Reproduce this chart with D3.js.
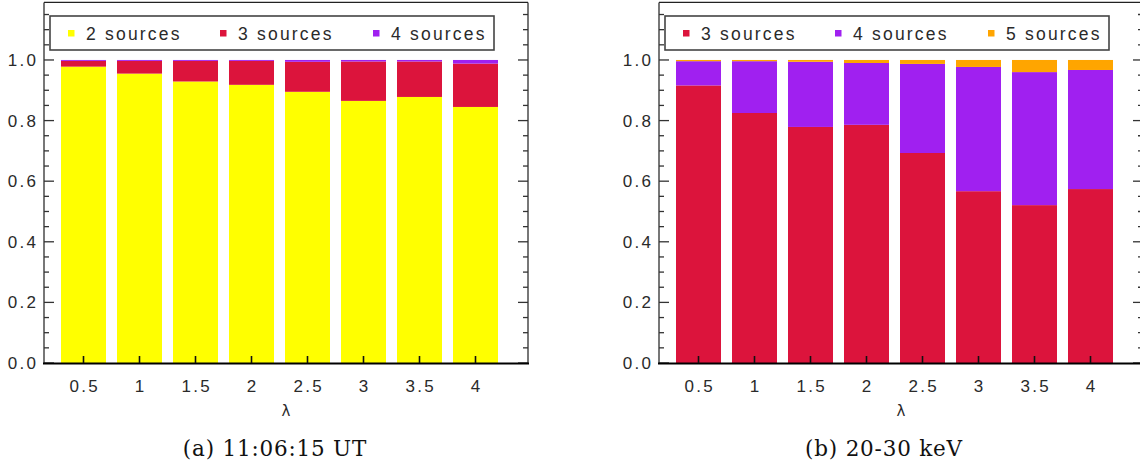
<!DOCTYPE html>
<html>
<head>
<meta charset="utf-8">
<script src="https://cdn.jsdelivr.net/npm/d3@7/dist/d3.min.js"></script>
<style>
  html, body { margin: 0; padding: 0; background: #fff; }
  svg { display: block; }
  .tick-label { font-family: "Liberation Sans", Arial, sans-serif; font-size: 17px; letter-spacing: 2.3px; fill: #2a2a2a; }
  .legend-label { font-family: "Liberation Sans", Arial, sans-serif; font-size: 17.5px; letter-spacing: 2.2px; fill: #2a2a2a; }
  .axis-title { font-family: "DejaVu Sans", sans-serif; font-size: 15px; fill: #2a2a2a; }
  .caption { font-family: "DejaVu Serif", serif; font-size: 21.5px; letter-spacing: 0.8px; fill: #111; }
</style>
</head>
<body>
<svg id="chart" width="1140" height="465"></svg>
<script>
// λ values along the horizontal axis
const lambdas = [0.5, 1, 1.5, 2, 2.5, 3, 3.5, 4];
const lambdaLabels = ["0.5", "1", "1.5", "2", "2.5", "3", "3.5", "4"];
const yTicks = [0, 0.2, 0.4, 0.6, 0.8, 1.0];

// Panel (a): fraction of runs finding 2, 3, 4 sources
const a2sources = [0.978, 0.955, 0.929, 0.918, 0.895, 0.865, 0.878, 0.845];
const a3sources = [0.019, 0.042, 0.068, 0.079, 0.099, 0.130, 0.117, 0.143];
const a4sources = [0.003, 0.003, 0.003, 0.003, 0.006, 0.005, 0.005, 0.012];

// Panel (b): fraction of runs finding 3, 4, 5 sources
const b3sources = [0.916, 0.825, 0.779, 0.786, 0.693, 0.567, 0.521, 0.574];
const b4sources = [0.080, 0.171, 0.215, 0.204, 0.294, 0.410, 0.439, 0.393];
const b5sources = [0.004, 0.004, 0.006, 0.010, 0.013, 0.023, 0.040, 0.033];

const panelA = {
  left: 44, caption: "(a) 11:06:15 UT", captionX: 275,
  series: [
    { name: "2 sources", color: "#ffff00", values: a2sources },
    { name: "3 sources", color: "#dc143c", values: a3sources },
    { name: "4 sources", color: "#a020f0", values: a4sources }
  ]
};
const panelB = {
  left: 659, caption: "(b) 20-30 keV", captionX: 884,
  series: [
    { name: "3 sources", color: "#dc143c", values: b3sources },
    { name: "4 sources", color: "#a020f0", values: b4sources },
    { name: "5 sources", color: "#ffa500", values: b5sources }
  ]
};

const svg = d3.select("#chart");
const plotW = 484, plotTop = 2.4, plotBottom = 363;
const barW = 45;

function drawPanel(p) {
  const g = svg.append("g").attr("transform", `translate(${p.left},0)`);
  const x = d3.scaleLinear().domain([0.5, 4]).range([39.5, 431.5]);
  const y = d3.scaleLinear().domain([0, 1.19]).range([plotBottom, plotTop]);

  // stacked bars
  const rows = lambdas.map((l, i) => {
    const r = { lambda: l };
    p.series.forEach(s => { r[s.name] = s.values[i]; });
    return r;
  });
  const stack = d3.stack().keys(p.series.map(s => s.name))(rows);
  stack.forEach((layer, k) => {
    g.append("g").attr("fill", p.series[k].color)
      .selectAll("rect").data(layer).join("rect")
      .attr("x", d => x(d.data.lambda) - barW / 2)
      .attr("width", barW)
      .attr("y", d => y(d[1]))
      .attr("height", d => y(d[0]) - y(d[1]));
  });

  // frame
  g.append("line").attr("x1", 0).attr("x2", 0).attr("y1", plotTop).attr("y2", plotBottom)
    .attr("stroke", "#555").attr("stroke-width", 1.6);
  g.append("line").attr("x1", plotW).attr("x2", plotW).attr("y1", plotTop).attr("y2", plotBottom)
    .attr("stroke", "#555").attr("stroke-width", 1.6);
  g.append("line").attr("x1", 0).attr("x2", plotW).attr("y1", plotTop).attr("y2", plotTop)
    .attr("stroke", "#222").attr("stroke-width", 1.4);

  // y ticks (major + minor) on both sides, pointing inward
  const minor = d3.range(0, 1.151, 0.05);
  minor.forEach(v => {
    const isMajor = Math.abs(v * 5 - Math.round(v * 5)) < 1e-6;
    const len = isMajor ? 10 : 5;
    const yy = y(v);
    g.append("line").attr("x1", 0).attr("x2", len).attr("y1", yy).attr("y2", yy)
      .attr("stroke", "#333").attr("stroke-width", 1.3);
    g.append("line").attr("x1", plotW - len).attr("x2", plotW).attr("y1", yy).attr("y2", yy)
      .attr("stroke", "#333").attr("stroke-width", 1.3);
  });

  // y tick labels
  g.selectAll(".ylab").data(yTicks).join("text")
    .attr("class", "tick-label")
    .attr("x", -8 + 2.3).attr("y", d => y(d) + 6)
    .attr("text-anchor", "end")
    .text(d => d.toFixed(1));

  // bottom axis
  g.append("line").attr("x1", -1).attr("x2", plotW + 1).attr("y1", plotBottom + 0.5).attr("y2", plotBottom + 0.5)
    .attr("stroke", "#000").attr("stroke-width", 2.2);
  lambdas.forEach(l => {
    g.append("line").attr("x1", x(l)).attr("x2", x(l)).attr("y1", plotBottom).attr("y2", plotBottom - 7)
      .attr("stroke", "#111").attr("stroke-width", 1.6);
  });
  g.selectAll(".xlab").data(lambdas).join("text")
    .attr("class", "tick-label")
    .attr("x", d => x(d) + 1.2).attr("y", 392)
    .attr("text-anchor", "middle")
    .text((d, i) => lambdaLabels[i]);

  g.append("text").attr("class", "axis-title")
    .attr("x", plotW / 2).attr("y", 416).attr("text-anchor", "middle").text("λ");

  // legend
  const lg = g.append("g");
  lg.append("rect").attr("x", 6).attr("y", 16).attr("width", 444).attr("height", 34)
    .attr("fill", "#fff").attr("stroke", "#444").attr("stroke-width", 1.6);
  const offs = [24, 176, 329];
  p.series.forEach((s, k) => {
    lg.append("rect").attr("x", offs[k]).attr("y", 30).attr("width", 6.5).attr("height", 6.5)
      .attr("fill", s.color);
    lg.append("text").attr("class", "legend-label")
      .attr("x", offs[k] + 18).attr("y", 39.5).text(s.name);
  });

  svg.append("text").attr("class", "caption")
    .attr("x", p.captionX).attr("y", 456).attr("text-anchor", "middle").text(p.caption);
}

drawPanel(panelA);
drawPanel(panelB);
</script>
</body>
</html>
